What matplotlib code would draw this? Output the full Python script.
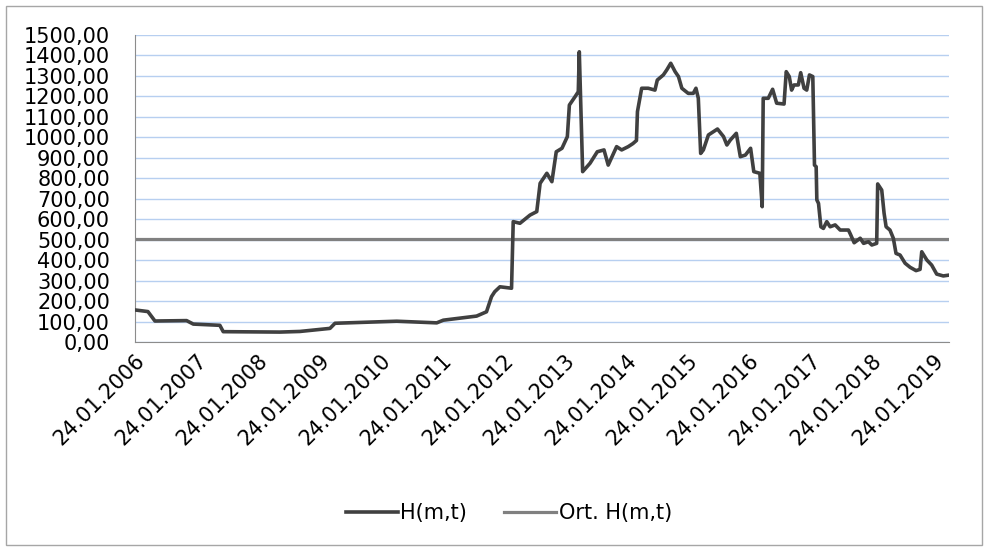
import matplotlib
matplotlib.use("Agg")
import matplotlib.pyplot as plt
from matplotlib.patches import Rectangle
from matplotlib.ticker import FuncFormatter, MultipleLocator
import pandas as pd

# H(m,t) series (date, value)
dates = [
    "2006-01-24", "2006-03-14", "2006-04-11", "2006-05-23", "2006-11-27", "2007-01-06",
    "2007-06-13", "2007-07-03", "2008-06-04", "2008-10-01", "2009-03-29", "2009-04-28",
    "2010-04-30", "2010-12-24", "2011-02-01", "2011-08-18", "2011-10-16", "2011-11-15",
    "2011-12-04", "2012-01-04", "2012-03-13", "2012-03-23", "2012-05-02", "2012-07-01",
    "2012-08-10", "2012-08-30", "2012-10-09", "2012-11-08", "2012-12-04", "2013-01-07",
    "2013-02-08", "2013-02-20", "2013-03-26", "2013-04-14", "2013-04-20", "2013-05-10",
    "2013-06-23", "2013-08-05", "2013-09-14", "2013-10-09", "2013-11-28", "2013-12-28",
    "2014-02-05", "2014-03-05", "2014-03-26", "2014-04-01", "2014-04-26", "2014-06-04",
    "2014-07-14", "2014-07-28", "2014-09-02", "2014-09-22", "2014-10-16", "2014-11-11",
    "2014-12-01", "2014-12-21", "2015-01-28", "2015-02-27", "2015-03-15", "2015-03-29",
    "2015-04-12", "2015-04-28", "2015-05-28", "2015-07-21", "2015-08-26", "2015-09-15",
    "2015-10-05", "2015-11-10", "2015-12-04", "2016-01-03", "2016-02-03", "2016-02-22",
    "2016-03-29", "2016-04-12", "2016-04-18", "2016-05-18", "2016-06-13", "2016-07-07",
    "2016-08-20", "2016-09-02", "2016-09-20", "2016-10-04", "2016-10-18", "2016-11-13",
    "2016-11-27", "2016-12-17", "2017-01-02", "2017-01-18", "2017-02-07", "2017-02-17",
    "2017-02-27", "2017-03-03", "2017-03-13", "2017-03-27", "2017-04-11", "2017-05-01",
    "2017-05-21", "2017-06-20", "2017-07-20", "2017-09-07", "2017-09-18", "2017-10-11",
    "2017-11-16", "2017-12-06", "2018-01-04", "2018-01-24", "2018-02-22", "2018-02-28",
    "2018-03-24", "2018-04-07", "2018-04-19", "2018-05-12", "2018-06-01", "2018-06-17",
    "2018-07-11", "2018-08-10", "2018-09-09", "2018-10-14", "2018-11-07", "2018-11-17",
    "2018-12-17", "2019-01-15", "2019-02-14", "2019-03-25", "2019-04-28",
]
h_values = [
    158, 153, 150, 104, 106, 89,
    83, 52, 50, 53, 68, 93,
    103, 95, 108, 128, 149, 223,
    247, 271, 264, 589, 581, 621,
    638, 776, 825, 784, 930, 947,
    1004, 1158, 1199, 1223, 1418, 833,
    874, 930, 939, 865, 955, 939,
    955, 970, 985, 1126, 1240, 1240,
    1231, 1280, 1305, 1329, 1362, 1321,
    1297, 1240, 1215, 1215, 1240, 1191,
    922, 939, 1012, 1041, 1004, 963,
    987, 1020, 906, 914, 947, 833,
    825, 662, 1191, 1191, 1235, 1167,
    1163, 1321, 1297, 1231, 1256, 1256,
    1316, 1240, 1231, 1305, 1297, 865,
    857, 695, 678, 564, 556, 589,
    564, 573, 548, 548, 529, 486,
    508, 483, 491, 475, 483, 773,
    743, 630, 564, 548, 508, 434,
    426, 386, 366, 350, 356, 442,
    402, 377, 333, 324, 328,
]
h_mean = 504

tick_years = list(range(2006, 2020))
tick_labels = [f"24.01.{y}" for y in tick_years]

x = pd.to_datetime(dates)

fig = plt.figure(figsize=(9.88, 5.5), dpi=100)
ax = fig.add_axes([0.1366, 0.3776, 0.8239, 0.5588])

ax.plot(x, h_values, color="#404040", lw=2.6, label="H(m,t)", zorder=3)
ax.plot([x[0], x[-1]], [h_mean, h_mean], color="#808080", lw=2.3,
        label="Ort. H(m,t)", zorder=2)

ax.set_xlim(x[0], x[-1])
ax.set_ylim(0, 1500)
ax.yaxis.set_major_locator(MultipleLocator(100))
ax.yaxis.set_major_formatter(FuncFormatter(lambda v, p: f"{v:.2f}".replace(".", ",")))
ax.grid(axis="y", color="#b7cff0", lw=1)
ax.set_axisbelow(True)

ticks = pd.to_datetime([f"{y}-01-24" for y in tick_years])
ax.set_xticks(ticks)
ax.set_xticklabels(tick_labels, rotation=45, ha="right", rotation_mode="anchor")

for side in ["top", "right"]:
    ax.spines[side].set_visible(False)
for side in ["left", "bottom"]:
    ax.spines[side].set_color("#8c8c8c")
ax.tick_params(length=0, labelsize=15)
ax.tick_params(axis="y", pad=18)
ax.tick_params(axis="x", pad=6)

fig.legend(loc="lower center", bbox_to_anchor=(0.515, 0.015), ncol=2, frameon=False,
           fontsize=15, handlelength=2.5, handletextpad=0.1, columnspacing=1.8)

fig.patches.append(Rectangle((0.006, 0.009), 0.988, 0.98, transform=fig.transFigure,
                             fill=False, edgecolor="#a6a6a6", lw=1))

fig.savefig("out.png", dpi=100)
